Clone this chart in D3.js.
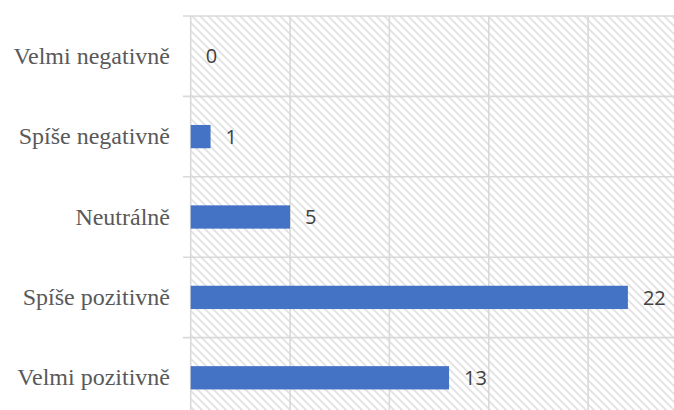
<!DOCTYPE html>
<html><head><meta charset="utf-8">
<script src="https://cdn.jsdelivr.net/npm/d3@7"></script>
<style>html,body{margin:0;padding:0;background:#fff;overflow:hidden}</style>
</head><body>
<svg id="c" width="674" height="410"></svg>
<script>
const categories = ["Velmi negativně","Spíše negativně","Neutrálně","Spíše pozitivně","Velmi pozitivně"];
const values = [0, 1, 5, 22, 13];
const xTicks = [0, 5, 10, 15, 20, 25];

const svg = d3.select("#c");
const W = 674, H = 410;
const x = d3.scaleLinear().domain([0, 25]).range([190.7, 687.5]);
const y = d3.scaleBand().domain(categories).range([16, 418]).paddingInner(0.71).paddingOuter(0.355);

const defs = svg.append("defs");
const pat = defs.append("pattern").attr("id","hatch").attr("patternUnits","userSpaceOnUse")
  .attr("width",8).attr("height",8);
pat.append("rect").attr("width",8).attr("height",8).attr("fill","#fff");
pat.append("path").attr("d","M-2,-2 L10,10 M-2,6 L2,10 M6,-2 L10,2")
  .attr("stroke","#e2e2e2").attr("stroke-width",1.8);

const x0 = x(0);
svg.append("rect").attr("x",x0).attr("y",16).attr("width",W - x0).attr("height",H-16).attr("fill","url(#hatch)");

// vertical gridlines
svg.append("g").selectAll("line").data(xTicks).join("line")
  .attr("x1",d=>x(d)).attr("x2",d=>x(d)).attr("y1",16).attr("y2",H)
  .attr("stroke","#d9d9d9").attr("stroke-width",1.6);

// horizontal separators (band boundaries)
const step = y.step();
const bounds = [];
categories.forEach(c => bounds.push(y(c) - (step - y.bandwidth())/2));
bounds.push(y(categories[categories.length-1]) + y.bandwidth() + (step - y.bandwidth())/2);
svg.append("g").selectAll("line").data(bounds).join("line")
  .attr("x1",183).attr("x2",W).attr("y1",d=>d).attr("y2",d=>d)
  .attr("stroke","#d9d9d9").attr("stroke-width",1.6);

// bars
svg.append("g").selectAll("rect").data(categories).join("rect")
  .attr("x",x0).attr("y",c=>y(c)).attr("height",y.bandwidth())
  .attr("width",(c,i)=>x(values[i]) - x0).attr("fill","#4472C4");

// value labels
svg.append("g").selectAll("text").data(categories).join("text")
  .attr("x",(c,i)=>x(values[i]) + 15).attr("y",c=>y(c)+y.bandwidth()/2)
  .attr("dy","0.36em")
  .attr("font-family","'Open Sans', sans-serif").attr("font-size",20).attr("fill","#404040")
  .text((c,i)=>values[i]);

// category labels
svg.append("g").selectAll("text").data(categories).join("text")
  .attr("x",170).attr("y",c=>y(c)+y.bandwidth()/2)
  .attr("dy","0.32em").attr("text-anchor","end")
  .attr("font-family","'Liberation Serif', 'Times New Roman', serif").attr("font-size",24).attr("fill","#595959")
  .text(c=>c);
</script>
</body></html>
